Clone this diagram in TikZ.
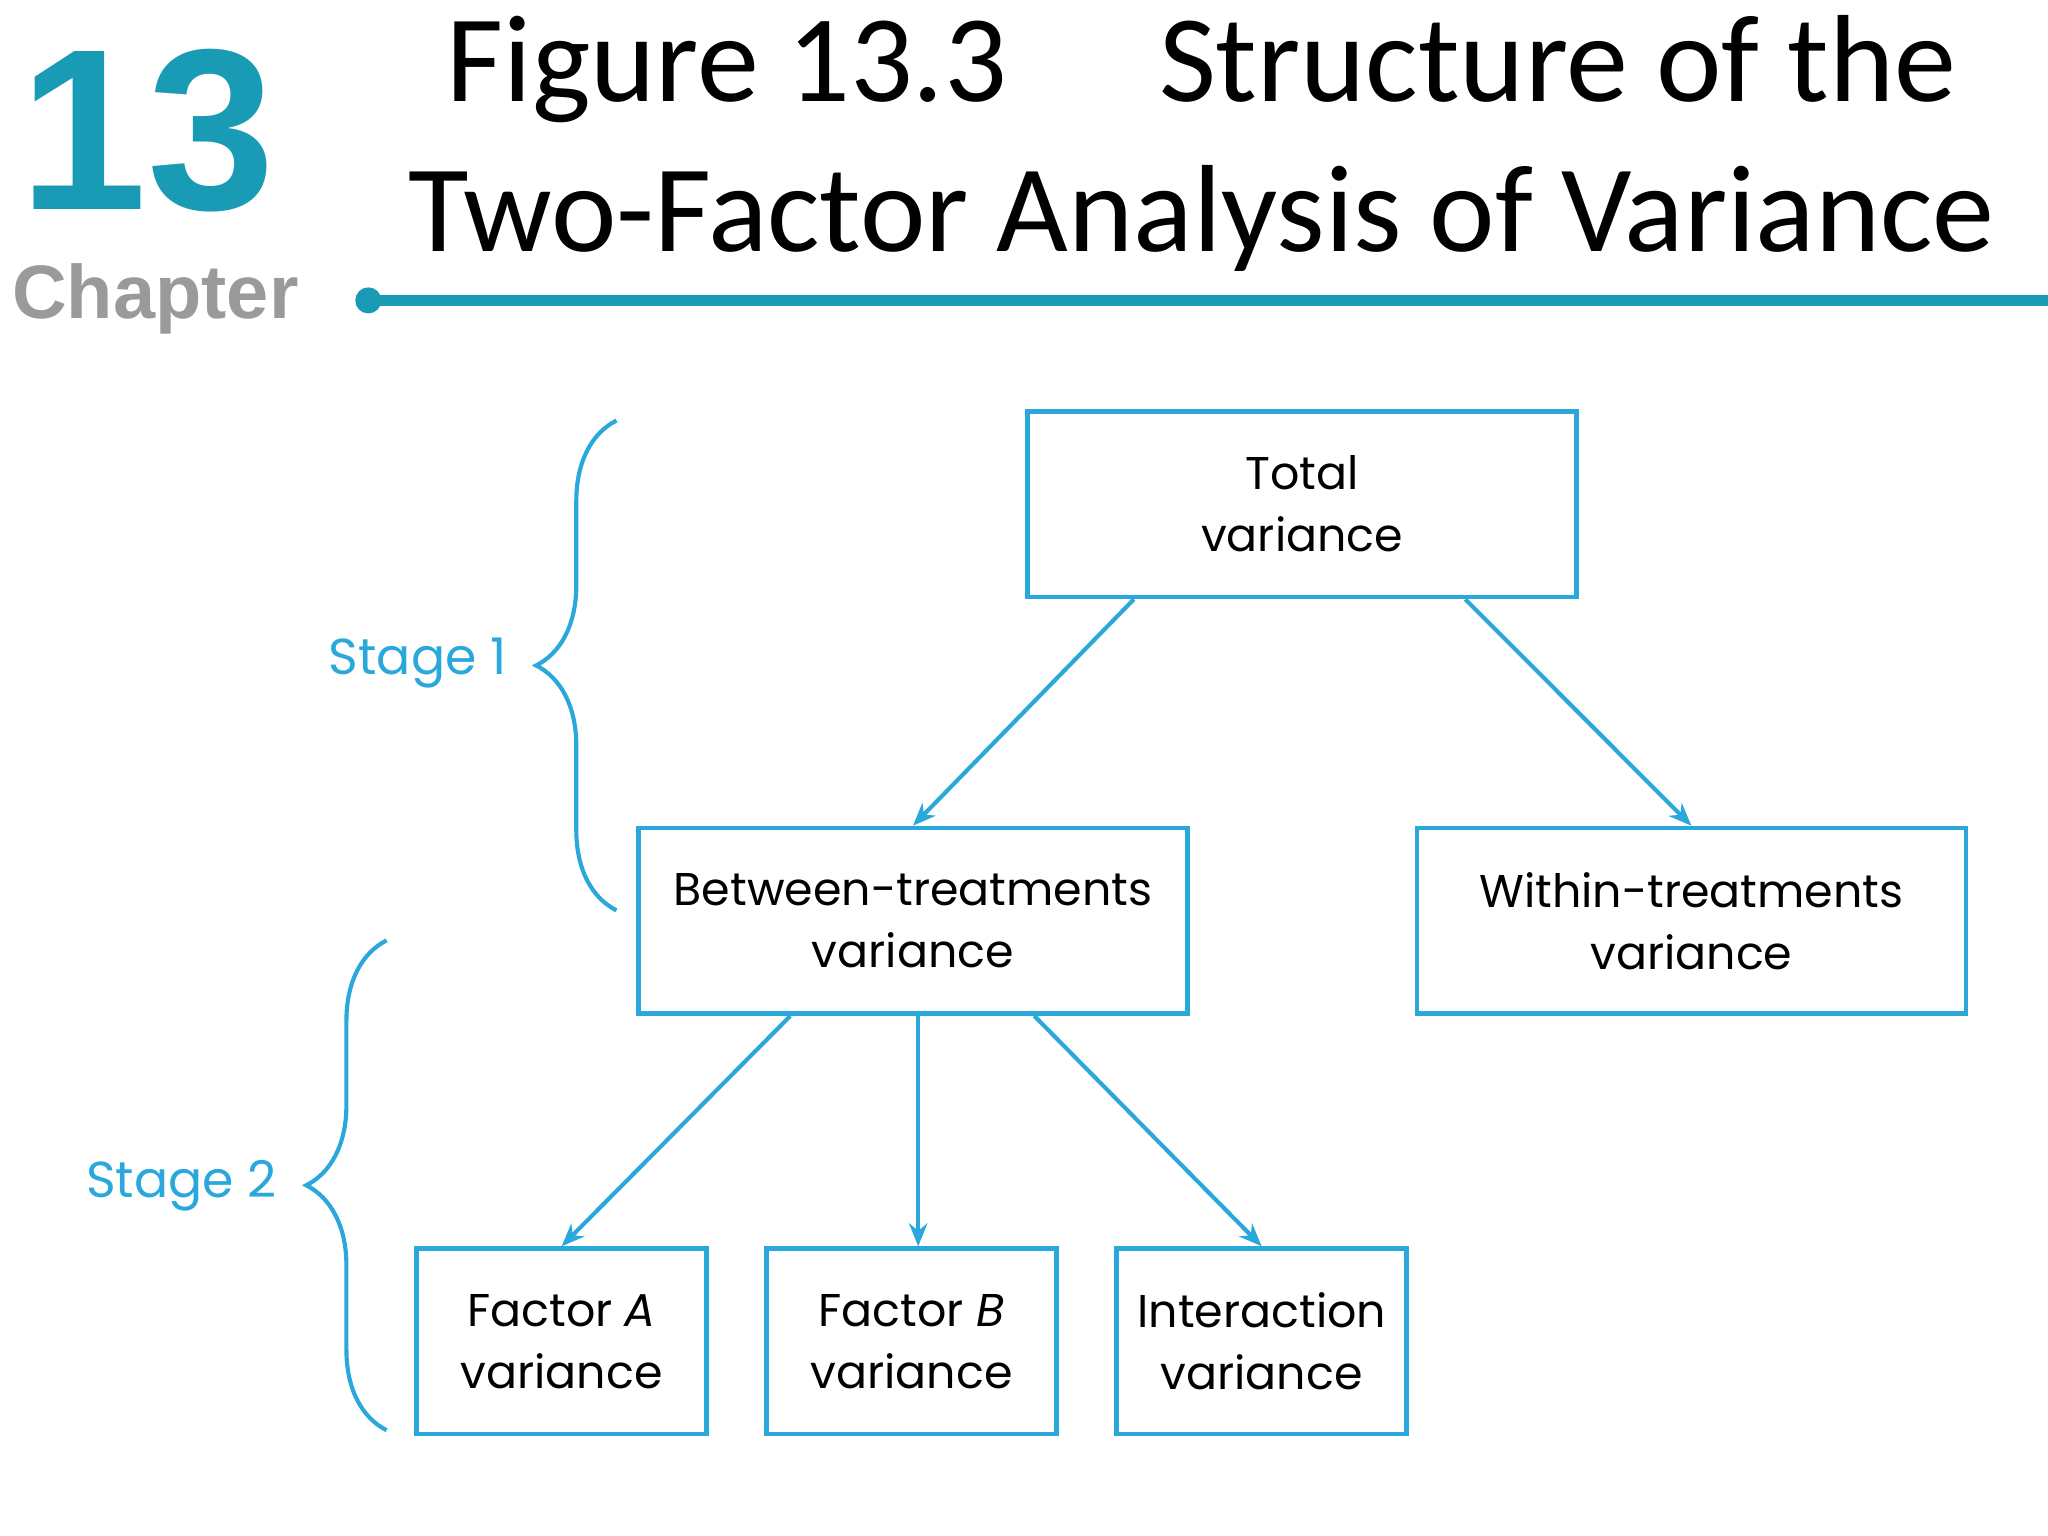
\documentclass[tikz,border=0pt]{standalone}
\usepackage{fontspec}
\setmainfont{Poppins}
\newfontfamily\titlefont{Carlito}
\newfontfamily\chapfont{Liberation Sans}
\usetikzlibrary{decorations.pathreplacing,arrows.meta}
\definecolor{teal13}{HTML}{1A9BB5}
\definecolor{lineblue}{HTML}{2AA8DC}
\definecolor{chapgray}{HTML}{9A9A9A}
\tikzset{
  vbox/.style={draw=lineblue,line width=1pt,minimum width=4.2cm,minimum height=1.42cm,inner sep=0pt,align=center,font=\fontsize{10}{13.5}\selectfont},
  sbox/.style={vbox,minimum width=2.22cm},
  arr/.style={draw=lineblue,line width=0.9pt,-{Stealth[length=5pt,width=4pt]}},
  br/.style={draw=lineblue,line width=0.9pt,decorate,decoration={brace,amplitude=17.5pt,mirror}},
  stage/.style={text=lineblue,font=\fontsize{11}{13}\selectfont,anchor=east}
}
\begin{document}
\begin{tikzpicture}[x=0.01cm,y=-0.01cm]
\useasboundingbox (0,0) rectangle (1568,1176);
\node[text=teal13,font=\chapfont\bfseries\fontsize{50}{50}\selectfont,anchor=center] (num) at (113,100) {13};
\node[text=chapgray,font=\chapfont\bfseries\fontsize{16.5}{16.5}\selectfont] (chap) at (119,229) {Chapter};
\node[font=\titlefont\fontsize{27}{32.7}\selectfont,align=center] (title) at (920,110) {Figure 13.3\quad\ Structure of the\\Two-Factor Analysis of Variance};
\fill[teal13] (282,230) circle (10);
\draw[teal13,line width=2.4pt] (282,230) -- (1568,230);

\node[vbox] (total) at (997,386) {Total\\variance};
\node[vbox] (between) at (699,705) {Between-treatments\\variance};
\node[vbox] (within) at (1295,705) {Within-treatments\\variance};
\node[sbox] (fa) at (430,1027) {Factor \textit{A}\\variance};
\node[sbox] (fb) at (698,1027) {Factor \textit{B}\\variance};
\node[sbox] (fi) at (966,1027) {Interaction\\variance};

\draw[arr] (total.south west)++(83,0) -- (between.north);
\draw[arr] (total.south east)++(-87,0) -- (within.north);
\draw[arr] (between.south west)++(118,0) -- (fa.north);
\draw[arr] (between.south) ++(4,0) -- (fb.north -| {703,0});
\draw[arr] (between.south east)++(-119,0) -- (fi.north);

\coordinate (b1t) at (472,322); \coordinate (b1b) at (472,697);
\coordinate (b2t) at (296,720); \coordinate (b2b) at (296,1095);
\draw[br] (b1t) -- (b1b);
\draw[br] (b2t) -- (b2b);
\node[stage] (st1) at (400,508) {Stage 1};
\node[stage] (st2) at (224,908) {Stage 2};
\end{tikzpicture}
\end{document}
